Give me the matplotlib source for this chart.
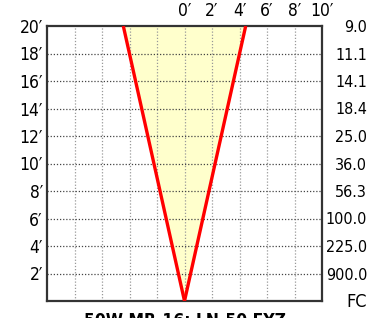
import matplotlib
matplotlib.use("Agg")
import matplotlib.pyplot as plt

# ==================================
# data
# ==================================
title = "50W MR-16: LN-50 FYZ"
heights = [0, 20]
half_spread = [0, 4.45]          # feet from centre at each height
height_ticks = [2, 4, 6, 8, 10, 12, 14, 16, 18, 20]
fc_labels = ["900.0", "225.0", "100.0", "56.3", "36.0",
             "25.0", "18.4", "14.1", "11.1", "9.0"]
width_ticks = [0, 2, 4, 6, 8, 10]

plt.rcParams['font.family'] = ['DejaVu Sans']
plt.rcParams['font.stretch'] = 'condensed'

fig = plt.figure(figsize=(3.86, 3.18), dpi=100)
ax = fig.add_axes([47 / 386, 17 / 318, 275 / 386, 275 / 318])

left = [-v for v in half_spread]
ax.fill_betweenx(heights, left, half_spread, color='#ffffcc', zorder=1)
ax.plot(left, heights, color='#ff0000', lw=2.4, zorder=3, solid_capstyle='butt')
ax.plot(half_spread, heights, color='#ff0000', lw=2.4, zorder=3, solid_capstyle='butt')

ax.set_xlim(-10, 10)
ax.set_ylim(0, 20)

# grid
for gx in range(-8, 10, 2):
    ax.axvline(gx, color='#999999', lw=0.9, ls=(0, (1, 1.5)), zorder=2)
for gy in height_ticks[:-1]:
    ax.axhline(gy, color='#444444', lw=0.9, ls=(0, (1, 1.5)), zorder=2)

ax.set_yticks(height_ticks)
ax.set_yticklabels([f"{h}\u2032" for h in height_ticks], fontsize=12.5)
ax.xaxis.tick_top()
ax.set_xticks(width_ticks)
ax.set_xticklabels([f"{w}\u2032" for w in width_ticks], fontsize=12.5)
ax.tick_params(length=0, pad=4)
ax.tick_params(axis='y', pad=3)

# foot-candle values on the right
ax2 = ax.twinx()
ax2.set_ylim(0, 20)
ax2.set_yticks(height_ticks)
ax2.set_yticklabels(fc_labels, fontsize=11.5, ha='right')
ax2.tick_params(length=0, pad=32.5)
for s in ax2.spines.values():
    s.set_visible(False)

for s in ax.spines.values():
    s.set_color('#333333')
    s.set_linewidth(1.6)

fig.text(367 / 386, 16 / 318, "FC", fontsize=13,
         ha='right', va='center')
fig.text(185 / 386, 6 / 318, title, fontsize=12.5, fontweight='bold',
         ha='center', va='top')

fig.savefig("out.png", dpi=100)
